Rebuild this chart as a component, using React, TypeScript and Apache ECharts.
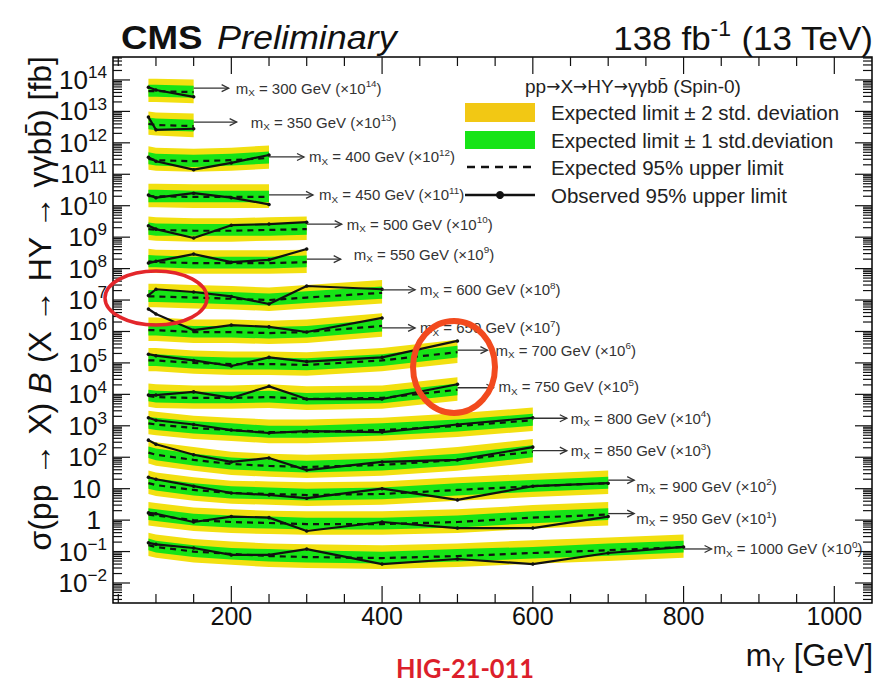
import React, { useEffect, useRef } from 'react';
import * as echarts from 'echarts';

const FONT = '"Liberation Sans", Arial, Helvetica, sans-serif';
const ARROW_FONT = '"DejaVu Sans", "Liberation Sans", sans-serif';

// Resonance masses and the power of ten each limit curve is multiplied by
const MASS_X = [300, 350, 400, 450, 500, 550, 600, 650, 700, 750, 800, 850, 900, 950, 1000];
const SCALE_POW = [14, 13, 12, 11, 10, 9, 8, 7, 6, 5, 4, 3, 2, 1, 0];

// m_Y scan points (GeV); each curve uses the first N of them
const M_Y = [90, 100, 150, 200, 250, 300, 400, 500, 600, 700, 800];

// 95% CL upper limits in fb (before scaling), one row per m_X
const EXPECTED = [
  [0.44, 0.44, 0.41],
  [0.40, 0.37, 0.34],
  [0.31, 0.28, 0.26, 0.28, 0.33],
  [0.20, 0.20, 0.19, 0.19, 0.19],
  [0.18, 0.17, 0.16, 0.16, 0.17, 0.18],
  [0.17, 0.16, 0.15, 0.15, 0.15, 0.16],
  [0.13, 0.13, 0.12, 0.11, 0.10, 0.12, 0.17],
  [0.11, 0.11, 0.096, 0.096, 0.089, 0.096, 0.15],
  [0.12, 0.12, 0.10, 0.092, 0.092, 0.086, 0.12, 0.22],
  [0.089, 0.082, 0.077, 0.077, 0.082, 0.071, 0.077, 0.14],
  [0.12, 0.11, 0.085, 0.073, 0.063, 0.063, 0.073, 0.098, 0.15],
  [0.14, 0.12, 0.082, 0.061, 0.053, 0.049, 0.057, 0.082, 0.15],
  [0.15, 0.13, 0.091, 0.073, 0.068, 0.063, 0.068, 0.091, 0.12, 0.15],
  [0.15, 0.14, 0.10, 0.087, 0.081, 0.075, 0.075, 0.087, 0.12, 0.15],
  [0.16, 0.14, 0.10, 0.084, 0.072, 0.067, 0.062, 0.072, 0.090, 0.11, 0.14],
];

const OBSERVED = [
  [0.59, 0.48, 0.29],
  [0.66, 0.26, 0.28],
  [0.35, 0.26, 0.14, 0.23, 0.41],
  [0.22, 0.18, 0.25, 0.18, 0.11],
  [0.23, 0.18, 0.094, 0.24, 0.26, 0.30],
  [0.15, 0.17, 0.29, 0.16, 0.19, 0.42],
  [0.14, 0.22, 0.18, 0.13, 0.075, 0.28, 0.22],
  [0.52, 0.36, 0.11, 0.16, 0.14, 0.096, 0.27],
  [0.19, 0.17, 0.12, 0.080, 0.15, 0.11, 0.15, 0.50],
  [0.095, 0.095, 0.12, 0.077, 0.18, 0.071, 0.071, 0.21],
  [0.18, 0.15, 0.11, 0.073, 0.059, 0.068, 0.063, 0.11, 0.18],
  [0.35, 0.26, 0.12, 0.071, 0.095, 0.039, 0.071, 0.082, 0.21],
  [0.23, 0.20, 0.12, 0.073, 0.063, 0.050, 0.10, 0.044, 0.12, 0.15],
  [0.17, 0.16, 0.087, 0.13, 0.12, 0.045, 0.087, 0.056, 0.056, 0.13],
  [0.19, 0.17, 0.13, 0.078, 0.078, 0.12, 0.040, 0.058, 0.040, 0.090, 0.14],
];

// Expected +2 / +1 / -1 / -2 standard deviation edges (fb, before scaling)
const PLUS2 = [
  [1.10, 1.10, 1.03],
  [1.00, 0.93, 0.85],
  [0.78, 0.70, 0.65, 0.70, 0.83],
  [0.50, 0.50, 0.48, 0.48, 0.48],
  [0.45, 0.43, 0.40, 0.40, 0.43, 0.45],
  [0.43, 0.40, 0.38, 0.38, 0.38, 0.40],
  [0.33, 0.33, 0.30, 0.28, 0.25, 0.30, 0.43],
  [0.28, 0.28, 0.24, 0.24, 0.22, 0.24, 0.38],
  [0.30, 0.30, 0.25, 0.23, 0.23, 0.22, 0.30, 0.55],
  [0.22, 0.21, 0.19, 0.19, 0.21, 0.18, 0.19, 0.35],
  [0.30, 0.28, 0.21, 0.18, 0.16, 0.16, 0.18, 0.25, 0.38],
  [0.35, 0.30, 0.21, 0.15, 0.13, 0.12, 0.14, 0.21, 0.38],
  [0.38, 0.33, 0.23, 0.18, 0.17, 0.16, 0.17, 0.23, 0.30, 0.38],
  [0.38, 0.35, 0.25, 0.22, 0.20, 0.19, 0.19, 0.22, 0.30, 0.38],
  [0.40, 0.35, 0.25, 0.21, 0.18, 0.17, 0.16, 0.18, 0.23, 0.28, 0.35],
];

const PLUS1 = [
  [0.70, 0.70, 0.66],
  [0.64, 0.59, 0.54],
  [0.50, 0.45, 0.42, 0.45, 0.53],
  [0.32, 0.32, 0.30, 0.30, 0.30],
  [0.29, 0.27, 0.26, 0.26, 0.27, 0.29],
  [0.27, 0.26, 0.24, 0.24, 0.24, 0.26],
  [0.21, 0.21, 0.19, 0.18, 0.16, 0.19, 0.27],
  [0.18, 0.18, 0.15, 0.15, 0.14, 0.15, 0.24],
  [0.19, 0.19, 0.16, 0.15, 0.15, 0.14, 0.19, 0.35],
  [0.14, 0.13, 0.12, 0.12, 0.13, 0.11, 0.12, 0.22],
  [0.19, 0.18, 0.14, 0.12, 0.10, 0.10, 0.12, 0.16, 0.24],
  [0.22, 0.19, 0.13, 0.098, 0.085, 0.078, 0.091, 0.13, 0.24],
  [0.24, 0.21, 0.15, 0.12, 0.11, 0.10, 0.11, 0.15, 0.19, 0.24],
  [0.24, 0.22, 0.16, 0.14, 0.13, 0.12, 0.12, 0.14, 0.19, 0.24],
  [0.26, 0.22, 0.16, 0.13, 0.12, 0.11, 0.099, 0.12, 0.14, 0.18, 0.22],
];

const MINUS1 = [
  [0.29, 0.29, 0.27],
  [0.27, 0.25, 0.23],
  [0.21, 0.19, 0.17, 0.19, 0.22],
  [0.13, 0.13, 0.13, 0.13, 0.13],
  [0.12, 0.11, 0.11, 0.11, 0.11, 0.12],
  [0.11, 0.11, 0.10, 0.10, 0.10, 0.11],
  [0.087, 0.087, 0.080, 0.074, 0.067, 0.080, 0.11],
  [0.074, 0.074, 0.064, 0.064, 0.060, 0.064, 0.10],
  [0.080, 0.080, 0.067, 0.062, 0.062, 0.058, 0.080, 0.15],
  [0.060, 0.055, 0.052, 0.052, 0.055, 0.048, 0.052, 0.094],
  [0.080, 0.074, 0.057, 0.049, 0.042, 0.042, 0.049, 0.066, 0.10],
  [0.094, 0.080, 0.055, 0.041, 0.036, 0.033, 0.038, 0.055, 0.10],
  [0.10, 0.087, 0.061, 0.049, 0.046, 0.042, 0.046, 0.061, 0.080, 0.10],
  [0.10, 0.094, 0.067, 0.058, 0.054, 0.050, 0.050, 0.058, 0.080, 0.10],
  [0.11, 0.094, 0.067, 0.056, 0.048, 0.045, 0.042, 0.048, 0.060, 0.074, 0.094],
];

const MINUS2 = [
  [0.20, 0.20, 0.18],
  [0.18, 0.17, 0.15],
  [0.14, 0.13, 0.12, 0.13, 0.15],
  [0.090, 0.090, 0.085, 0.085, 0.085],
  [0.081, 0.077, 0.072, 0.072, 0.077, 0.081],
  [0.077, 0.072, 0.068, 0.068, 0.068, 0.072],
  [0.059, 0.059, 0.054, 0.050, 0.045, 0.054, 0.077],
  [0.050, 0.050, 0.043, 0.043, 0.040, 0.043, 0.068],
  [0.054, 0.054, 0.045, 0.041, 0.041, 0.039, 0.054, 0.099],
  [0.040, 0.037, 0.035, 0.035, 0.037, 0.032, 0.035, 0.063],
  [0.054, 0.050, 0.038, 0.033, 0.028, 0.028, 0.033, 0.044, 0.068],
  [0.063, 0.054, 0.037, 0.027, 0.024, 0.022, 0.026, 0.037, 0.068],
  [0.068, 0.059, 0.041, 0.033, 0.031, 0.028, 0.031, 0.041, 0.054, 0.068],
  [0.068, 0.063, 0.045, 0.039, 0.036, 0.034, 0.034, 0.039, 0.054, 0.068],
  [0.072, 0.063, 0.045, 0.038, 0.032, 0.030, 0.028, 0.032, 0.041, 0.050, 0.063],
];

// Axis ticks and labels
const X_MAJOR = [200, 400, 600, 800, 1000];
const X_MINOR = [50, 100, 150, 250, 300, 350, 450, 500, 550, 650, 700, 750, 850, 900, 950, 1050];
const Y_DECADES = [-2, -1, 0, 1, 2, 3, 4, 5, 6, 7, 8, 9, 10, 11, 12, 13, 14];

// Plot ranges
const X_MIN = 43;
const X_MAX = 1050;
const Y_MIN = Math.pow(10, -2.636);
const Y_MAX = Math.pow(10, 14.73);

// Arrow + text placement for the curve labels (pixels)
const LABEL_LAYOUT = [
  { len: 35, gap: 7, dy: -4, ty: 0 },
  { len: 43, gap: 14, dy: -4, ty: 0 },
  { len: 35, gap: 5, dy: -1, ty: 0 },
  { len: 44, gap: 6, dy: -2, ty: 0 },
  { len: 35, gap: 5, dy: -5, ty: 0 },
  { len: 34, gap: 13, dy: -3, ty: -5 },
  { len: 33, gap: 5, dy: -3, ty: 0 },
  { len: 33, gap: 5, dy: 2, ty: 0 },
  { len: 30, gap: 8, dy: -2, ty: 0 },
  { len: 36, gap: 5, dy: -2, ty: -1 },
  { len: 34, gap: 4, dy: -2, ty: 0 },
  { len: 34, gap: 4, dy: -1, ty: 0 },
  { len: 26, gap: 2, dy: -3, ty: 6 },
  { len: 26, gap: 2, dy: -1, ty: 5 },
  { len: 28, gap: 2, dy: 2, ty: 0 },
];

const YELLOW = '#f2e010';
const YELLOW_LEGEND = '#f2c814';
const GREEN = '#16e416';
const INK = '#111';

const scaled = (arr: number[][], i: number) =>
  arr[i].map((v, k) => [M_Y[k], v * Math.pow(10, SCALE_POW[i])]);

function supRich(size: number, color: string) {
  return {
    n: { fontSize: size, fontFamily: FONT, fill: color, lineHeight: size * 1.25, verticalAlign: 'middle' },
    sup: { fontSize: size * 0.66, fontFamily: FONT, fill: color, lineHeight: size * 0.62, verticalAlign: 'top' },
    sub: { fontSize: size * 0.66, fontFamily: FONT, fill: color, lineHeight: size * 0.6, verticalAlign: 'bottom' },
  };
}

function renderBand(params: any, api: any) {
  const i = params.dataIndex;
  const pts = (arr: number[][]) => scaled(arr, i).map((p) => api.coord(p));
  const up2 = pts(PLUS2);
  const lo2 = pts(MINUS2).reverse();
  const up1 = pts(PLUS1);
  const lo1 = pts(MINUS1).reverse();
  return {
    type: 'group',
    children: [
      { type: 'polygon', shape: { points: up2.concat(lo2) }, style: { fill: YELLOW } },
      { type: 'polygon', shape: { points: up1.concat(lo1) }, style: { fill: GREEN } },
    ],
  };
}

function renderCurveLabel(params: any, api: any) {
  const i = params.dataIndex;
  const p = api.coord([api.value(0), api.value(1)]);
  const lay = LABEL_LAYOUT[i];
  const y = p[1] + lay.dy;
  const x0 = p[0];
  const x1 = p[0] + lay.len;
  const col = '#333';
  return {
    type: 'group',
    children: [
      { type: 'line', shape: { x1: x0, y1: y, x2: x1, y2: y }, style: { stroke: col, lineWidth: 1.3 } },
      {
        type: 'polyline',
        shape: { points: [[x1 - 7, y - 3.5], [x1, y], [x1 - 7, y + 3.5]] },
        style: { stroke: col, fill: 'none', lineWidth: 1.3 },
      },
      {
        type: 'text',
        x: x1 + lay.gap,
        y: y + lay.ty,
        style: {
          text: `{n|m}{sub|X}{n| = ${MASS_X[i]} GeV (×10}{sup|${SCALE_POW[i]}}{n|)}`,
          rich: supRich(15, col),
          align: 'left',
          verticalAlign: 'middle',
        },
      },
    ],
  };
}

function renderFrame(params: any, api: any) {
  const cs = params.coordSys;
  const L = cs.x;
  const R = cs.x + cs.width;
  const T = cs.y;
  const B = cs.y + cs.height;
  const kids: any[] = [];
  const tick = (x1: number, y1: number, x2: number, y2: number) =>
    kids.push({ type: 'line', shape: { x1, y1, x2, y2 }, style: { stroke: INK, lineWidth: 1.2 } });

  X_MAJOR.concat(X_MINOR).forEach((v) => {
    const x = api.coord([v, 1])[0];
    if (x > R - 1) return;
    const len = X_MAJOR.includes(v) ? 17 : 9;
    tick(x, B, x, B - len);
    tick(x, T, x, T + len);
  });
  X_MAJOR.forEach((v) => {
    const x = api.coord([v, 1])[0];
    kids.push({
      type: 'text',
      x,
      y: B + 13,
      style: { text: String(v), fontSize: 25, fontFamily: FONT, fill: INK, align: 'center', verticalAlign: 'middle' },
    });
  });

  for (let d = -3; d <= 14; d++) {
    for (let m = 1; m <= 9; m++) {
      const v = m * Math.pow(10, d);
      if (v < Y_MIN || v > Y_MAX) continue;
      const y = api.coord([500, v])[1];
      const len = m === 1 ? 17 : 9;
      tick(L, y, L + len, y);
      tick(R, y, R - len, y);
    }
  }

  const rich = supRich(26, INK);
  Y_DECADES.forEach((d) => {
    const y = api.coord([500, Math.pow(10, d)])[1];
    let text: string;
    let x = L - 6;
    if (d === 0) {
      text = '{n|1}';
      x = L - 12;
    } else if (d === 1) {
      text = '{n|10}';
      x = L - 12;
    } else {
      text = `{n|10}{sup|${d < 0 ? '−' + -d : d}}`;
    }
    kids.push({ type: 'text', x, y, style: { text, rich, align: 'right', verticalAlign: 'middle' } });
  });
  return { type: 'group', children: kids };
}

function buildOption() {
  const series: any[] = [];
  series.push({
    type: 'custom',
    name: 'bands',
    z: 1,
    silent: true,
    data: MASS_X.map((_, i) => [M_Y[0], EXPECTED[i][0] * Math.pow(10, SCALE_POW[i])]),
    renderItem: renderBand,
  });
  MASS_X.forEach((mx, i) => {
    series.push({
      type: 'line',
      name: `expected ${mx}`,
      z: 3,
      silent: true,
      data: scaled(EXPECTED, i),
      symbol: 'none',
      lineStyle: { color: INK, width: 2.2, type: [6, 5] },
    });
    series.push({
      type: 'line',
      name: `observed ${mx}`,
      z: 4,
      silent: true,
      data: scaled(OBSERVED, i),
      symbol: 'circle',
      symbolSize: 3.5,
      itemStyle: { color: INK },
      lineStyle: { color: INK, width: 2.2 },
    });
  });
  series.push({
    type: 'custom',
    name: 'labels',
    z: 5,
    silent: true,
    data: MASS_X.map((_, i) => {
      const n = EXPECTED[i].length;
      return [M_Y[n - 1], EXPECTED[i][n - 1] * Math.pow(10, SCALE_POW[i])];
    }),
    renderItem: renderCurveLabel,
  });
  series.push({
    type: 'custom',
    name: 'frame',
    z: 10,
    silent: true,
    data: [[500, 1]],
    renderItem: renderFrame,
  });

  const legendText = (y: number, text: string) => ({
    type: 'text',
    x: 551,
    y,
    style: { text, fontSize: 20.5, fontFamily: FONT, fill: '#222', align: 'left', verticalAlign: 'middle' },
  });

  const headerRich = {
    n: { fontSize: 19, fontFamily: FONT, fill: '#222' },
    a: { fontSize: 17, fontFamily: ARROW_FONT, fill: '#222' },
  };

  const graphic: any[] = [
    {
      type: 'text',
      x: 121,
      y: 37,
      scaleX: 1.08,
      style: { text: 'CMS', fontSize: 34, fontWeight: 'bold', fontFamily: FONT, fill: INK, verticalAlign: 'middle' },
    },
    {
      type: 'text',
      x: 217,
      y: 38,
      scaleX: 1.09,
      style: { text: 'Preliminary', fontSize: 33, fontStyle: 'italic', fontFamily: FONT, fill: INK, verticalAlign: 'middle' },
    },
    {
      type: 'text',
      x: 873,
      y: 38,
      scaleX: 1.06,
      style: {
        text: '{n|138 fb}{sup|-1}{n| (13 TeV)}',
        rich: supRich(33, INK),
        align: 'right',
        verticalAlign: 'middle',
      },
    },
    {
      type: 'text',
      x: 525,
      y: 86,
      style: {
        text: '{n|pp}{a|→}{n|X}{a|→}{n|HY}{a|→}{n|γγbb\u0304 (Spin-0)}',
        rich: headerRich,
        verticalAlign: 'middle',
      },
    },
    { type: 'rect', shape: { x: 465, y: 103, width: 70, height: 19 }, style: { fill: YELLOW_LEGEND } },
    legendText(112, 'Expected limit ± 2 std. deviation'),
    { type: 'rect', shape: { x: 465, y: 131, width: 70, height: 18 }, style: { fill: GREEN } },
    legendText(140, 'Expected limit ± 1 std.deviation'),
    {
      type: 'line',
      shape: { x1: 467, y1: 167, x2: 535, y2: 167 },
      style: { stroke: INK, lineWidth: 2.4, lineDash: [8, 6] },
    },
    legendText(167, 'Expected 95% upper limit'),
    { type: 'line', shape: { x1: 465, y1: 195, x2: 535, y2: 195 }, style: { stroke: INK, lineWidth: 2.4 } },
    { type: 'circle', shape: { cx: 500, cy: 195, r: 4 }, style: { fill: INK } },
    legendText(195, 'Observed 95% upper limit'),
    {
      type: 'text',
      x: 40,
      y: 56,
      rotation: Math.PI / 2,
      style: {
        text: '{r|σ(pp → X) }{i|B}{r| (X → HY → γγbb\u0304) [fb]}',
        rich: {
          r: { fontSize: 32, fontFamily: FONT, fill: INK },
          i: { fontSize: 32, fontFamily: FONT, fontStyle: 'italic', fill: INK },
        },
        align: 'right',
        verticalAlign: 'middle',
      },
    },
    {
      type: 'text',
      x: 873,
      y: 655,
      style: {
        text: '{n|m}{sub|Y}{n| [GeV]}',
        rich: supRich(31, INK),
        align: 'right',
        verticalAlign: 'middle',
      },
    },
    {
      type: 'text',
      x: 465,
      y: 668,
      scaleX: 0.94,
      style: {
        text: 'HIG-21-011',
        fontSize: 27,
        fontWeight: 'bold',
        fontFamily: 'Lato, "Open Sans", sans-serif',
        fill: '#dc1f2b',
        align: 'center',
        verticalAlign: 'middle',
      },
    },
    {
      type: 'ellipse',
      shape: { cx: 156, cy: 298, rx: 51, ry: 27 },
      style: { fill: 'none', stroke: '#e3262b', lineWidth: 3.5 },
      z: 50,
    },
    {
      type: 'ellipse',
      shape: { cx: 454, cy: 367, rx: 41, ry: 46 },
      style: { fill: 'none', stroke: '#f24a1e', lineWidth: 6 },
      z: 50,
    },
  ];

  return {
    animation: false,
    backgroundColor: '#ffffff',
    textStyle: { fontFamily: FONT },
    grid: {
      left: 113,
      top: 57,
      width: 759,
      height: 546,
      show: true,
      borderColor: '#000',
      borderWidth: 1.5,
      backgroundColor: 'transparent',
    },
    xAxis: {
      type: 'value',
      min: X_MIN,
      max: X_MAX,
      axisLine: { show: false },
      axisTick: { show: false },
      axisLabel: { show: false },
      splitLine: { show: false },
    },
    yAxis: {
      type: 'log',
      logBase: 10,
      min: Y_MIN,
      max: Y_MAX,
      axisLine: { show: false },
      axisTick: { show: false },
      axisLabel: { show: false },
      splitLine: { show: false },
    },
    series,
    graphic,
  };
}

export default function App() {
  const ref = useRef<HTMLDivElement>(null);
  useEffect(() => {
    if (!ref.current) return;
    const chart = echarts.init(ref.current, undefined, { renderer: 'svg' });
    chart.setOption(buildOption() as any);
    return () => chart.dispose();
  }, []);
  return (
    <div
      ref={ref}
      style={{ position: 'absolute', left: 0, top: 0, width: 883, height: 688, background: '#fff' }}
    />
  );
}
